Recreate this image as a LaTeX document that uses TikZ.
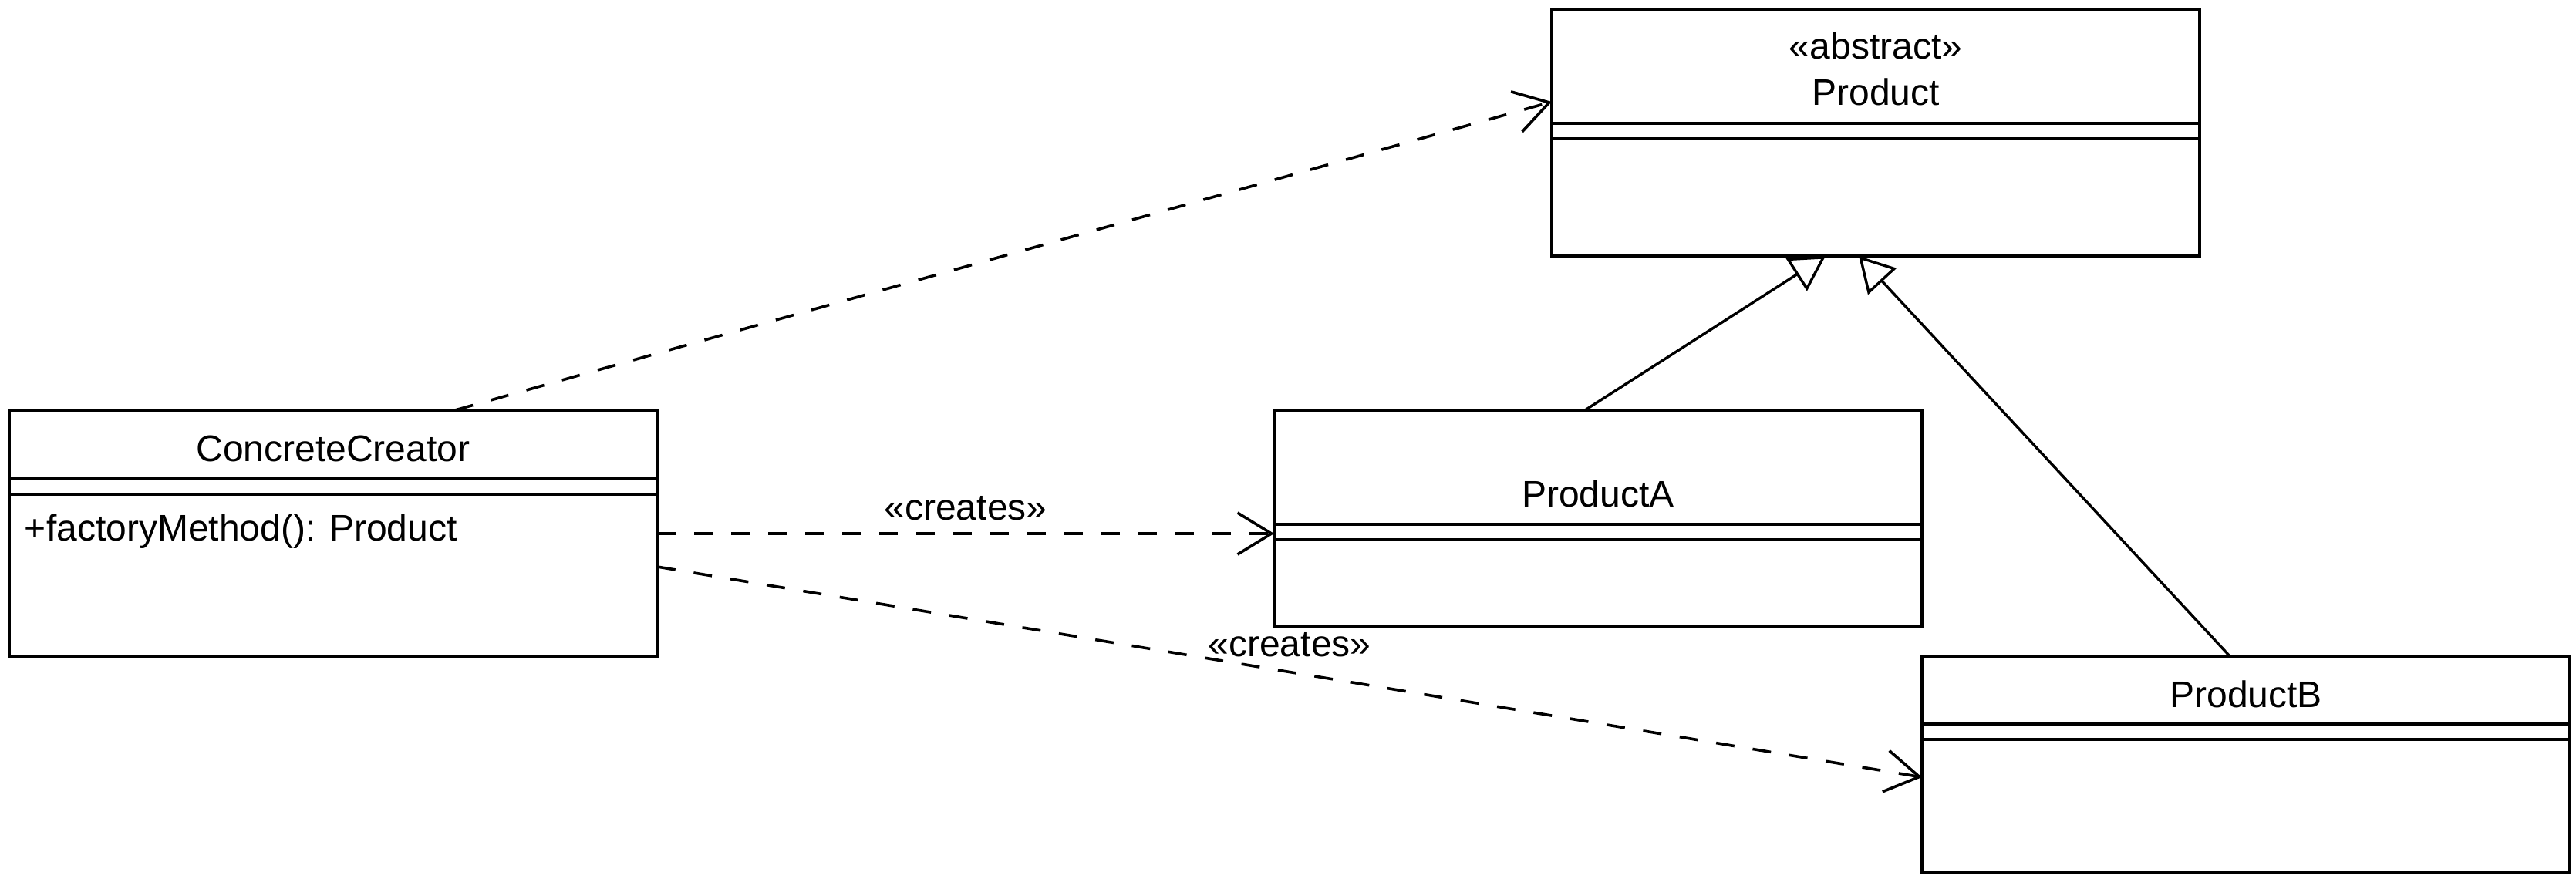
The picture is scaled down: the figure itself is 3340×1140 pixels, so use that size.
\documentclass[tikz,border=0pt]{standalone}
\usepackage{fontspec}
\setmainfont{Liberation Sans}
\usetikzlibrary{arrows.meta}
\begin{document}
\begin{tikzpicture}[x=0.5pt,y=-0.5pt,
  every node/.style={font=\fontsize{24pt}{28.8pt}\selectfont, inner sep=0pt, outer sep=0pt},
  umlbox/.style={draw, line width=1.7pt, rectangle, minimum width=420pt, fill=white},
  sepline/.style={line width=1.7pt},
  txt/.style={anchor=base},
  dep/.style={line width=1.8pt, dash pattern=on 12pt off 12pt, -{Straight Barb[length=22pt,width=27pt]}},
  gen/.style={line width=1.7pt, -{Triangle[open,length=22.5pt,width=25pt]}}]
\useasboundingbox (0,0) rectangle (3340,1140);
% boxes
\node[umlbox, minimum height=160pt] (P) at (2432,172) {};
\node[umlbox, minimum height=160pt] (CC) at (432,692) {};
\node[umlbox, minimum height=140pt] (PA) at (2072,672) {};
\node[umlbox, minimum height=140pt] (PB) at (2912,992) {};
% separators
\draw[sepline] ([yshift=-74pt]P.north west) -- ([yshift=-74pt]P.north east);
\draw[sepline] ([yshift=-84pt]P.north west) -- ([yshift=-84pt]P.north east);
\draw[sepline] ([yshift=-44.5pt]CC.north west) -- ([yshift=-44.5pt]CC.north east);
\draw[sepline] ([yshift=-54.5pt]CC.north west) -- ([yshift=-54.5pt]CC.north east);
\draw[sepline] ([yshift=-74pt]PA.north west) -- ([yshift=-74pt]PA.north east);
\draw[sepline] ([yshift=-84pt]PA.north west) -- ([yshift=-84pt]PA.north east);
\draw[sepline] ([yshift=-43.5pt]PB.north west) -- ([yshift=-43.5pt]PB.north east);
\draw[sepline] ([yshift=-53.5pt]PB.north west) -- ([yshift=-53.5pt]PB.north east);
% texts
\node[txt] (Pst) at (2432,76) {«abstract»};
\node[txt] (Pn) at (2432,136) {Product};
\node[txt] (CCn) at (432,598) {ConcreteCreator};
\node[anchor=base west] (CCm) at (32,701) {+factoryMethod(): Product};
\node[txt] (PAn) at (2072,657) {ProductA};
\node[txt] (PBn) at (2912,917) {ProductB};
% connectors
\draw[dep] ([xshift=289pt]CC.north west) -- ([yshift=-60pt]P.north west);
\draw[dep] (CC.east) -- node[txt, yshift=9pt] (c1) {«creates»} ([yshift=-10pt]PA.west);
\draw[dep] ([yshift=-21.5pt]CC.east) -- node[txt, yshift=10pt] (c2) {«creates»} ([yshift=-8pt]PB.west);
\draw[gen] ([xshift=-8.5pt]PA.north) -- ([xshift=-32.5pt]P.south);
\draw[gen] ([xshift=-10pt]PB.north) -- ([xshift=-11pt]P.south);
\end{tikzpicture}
\end{document}
